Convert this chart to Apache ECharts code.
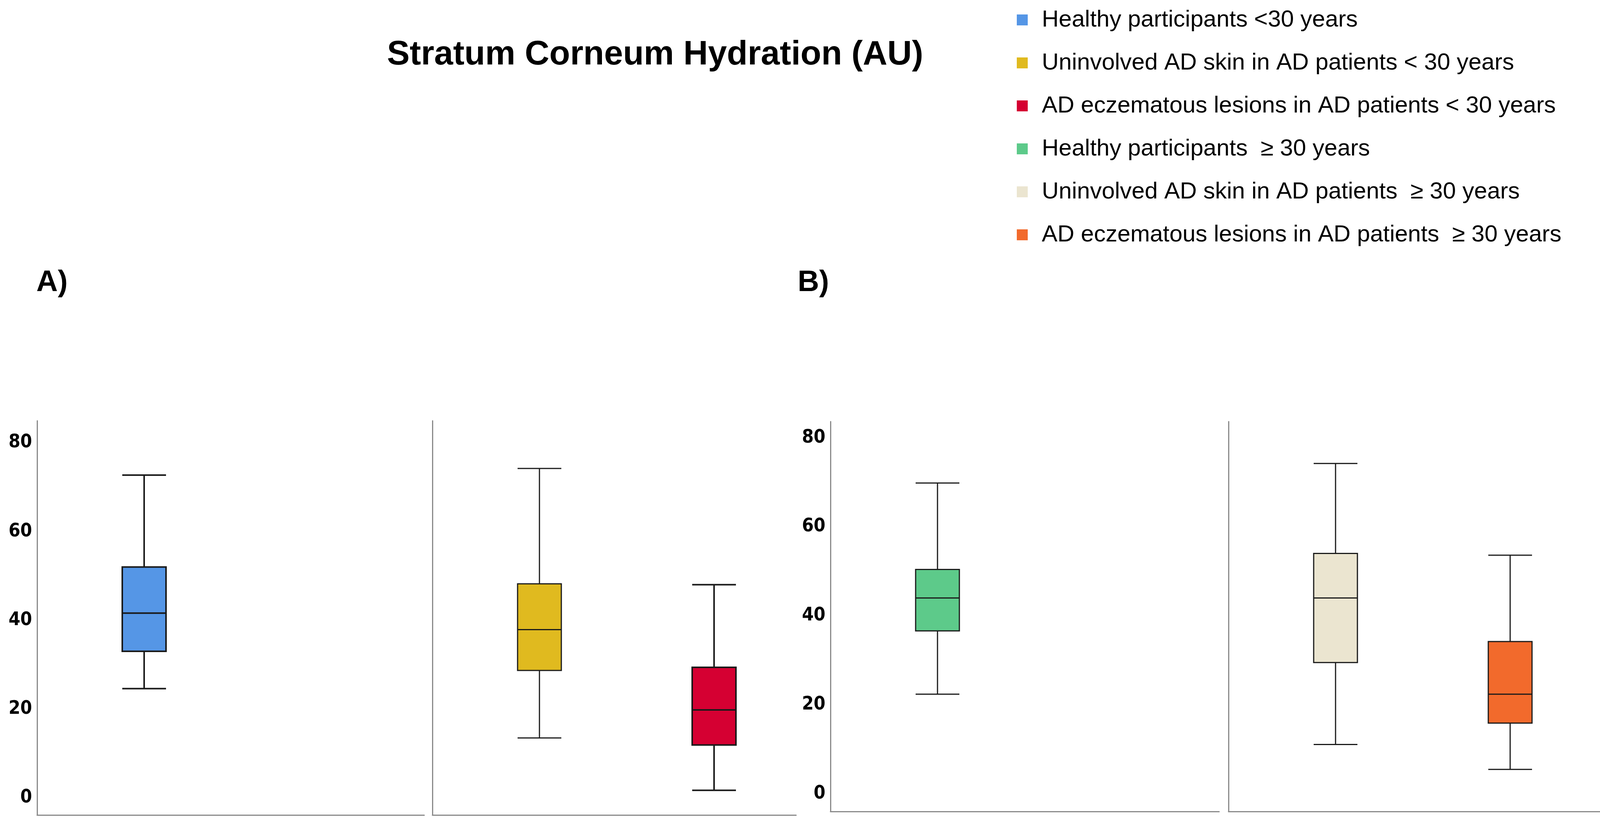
<!DOCTYPE html>
<html>
<head>
<meta charset="utf-8">
<script src="https://cdn.jsdelivr.net/npm/echarts@6/dist/echarts.min.js"></script>
<style>
html,body{margin:0;padding:0;background:#ffffff;}
#chart{width:4164px;height:2109px;}
</style>
</head>
<body>
<div id="chart"></div>
<script>
// ---------------- data ----------------
const groupNames = [
  'Healthy participants <30 years',
  'Uninvolved AD skin in AD patients < 30 years',
  'AD eczematous lesions in AD patients < 30 years',
  'Healthy participants  \u2265 30 years',
  'Uninvolved AD skin in AD patients  \u2265 30 years',
  'AD eczematous lesions in AD patients  \u2265 30 years'
];
const panelOf      = [0, 1, 1, 2, 3, 3];   // which sub-plot each group lives in
const clusterSlot  = [0, 0, 1, 0, 0, 1];   // position (cluster index) inside the sub-plot
const whiskerLow   = [24.6, 13.5, 1.7, 22.4, 11.1, 5.5];
const q1           = [33.0, 28.7, 11.9, 36.6, 29.5, 15.9];
const median       = [41.6, 37.9, 19.8, 44.0, 44.0, 22.4];
const q3           = [52.0, 48.2, 29.4, 50.4, 54.0, 34.2];
const whiskerHigh  = [72.7, 74.2, 48.0, 69.8, 74.2, 53.6];
const yTickValues  = [0, 20, 40, 60, 80];
const titleText    = 'Stratum Corneum Hydration (AU)';
const panelLetters = ['A)', 'B)'];

// ---------------- styles / layout ----------------
const colors = ['#5596E6', '#E0BA1F', '#D50032', '#5DCA8A', '#EBE5D0', '#F26A2C'];
const borderWidths = [4, 3, 4, 3, 3, 3];
const grids = [
  {left: 95,   top: 1077, width: 991, height: 1009},
  {left: 1107, top: 1077, width: 931, height: 1009},
  {left: 2126, top: 1079, width: 995, height: 998},
  {left: 3145, top: 1079, width: 992, height: 998}
];
const yRanges = [[-3.87, 84.93], [-3.87, 84.93], [-3.95, 83.6], [-3.95, 83.6]];
const showYLabels = [true, false, true, false];
const slotPx = 447, firstSlotPx = 274;
const axisColor = '#8a8a8a';
const labelFont = '"DejaVu Sans Condensed", "DejaVu Sans", sans-serif';
const textFont = '"Liberation Sans", Arial, sans-serif';

const xAxes = groupNames.map((n, i) => {
  const g = grids[panelOf[i]];
  const first = panelOf.indexOf(panelOf[i]) === i;
  return {
    type: 'value',
    gridIndex: panelOf[i],
    min: -firstSlotPx / slotPx,
    max: (g.width - firstSlotPx) / slotPx,
    show: first,
    axisLine: {show: true, onZero: false, lineStyle: {color: axisColor, width: 3}},
    axisTick: {show: false},
    axisLabel: {show: false},
    splitLine: {show: false}
  };
});

const yAxes = grids.map((g, k) => ({
  type: 'value',
  gridIndex: k,
  min: yRanges[k][0],
  max: yRanges[k][1],
  axisLine: {show: true, onZero: false, lineStyle: {color: axisColor, width: 3}},
  axisTick: {show: false},
  splitLine: {show: false},
  axisLabel: {
    show: showYLabels[k],
    customValues: yTickValues,
    margin: 13,
    color: '#000',
    fontFamily: labelFont,
    fontWeight: 'bold',
    fontSize: 48
  }
}));

const series = groupNames.map((n, i) => ({
  type: 'boxplot',
  name: n,
  xAxisIndex: i,
  yAxisIndex: panelOf[i],
  boxWidth: [112, 112],
  silent: true,
  emphasis: {disabled: true},
  itemStyle: {color: colors[i], borderColor: '#1a1a1a', borderWidth: borderWidths[i]},
  data: [[clusterSlot[i], whiskerLow[i], q1[i], median[i], q3[i], whiskerHigh[i]]]
}));

const chart = echarts.init(document.getElementById('chart'), null, {renderer: 'canvas'});
chart.setOption({
  animation: false,
  backgroundColor: '#ffffff',
  color: colors,
  title: [
    {text: titleText, left: 1677, top: 98, padding: 0, textAlign: 'center',
     textStyle: {fontFamily: textFont, fontWeight: 'bold', fontSize: 87, color: '#000'}},
    {text: panelLetters[0], left: 93, top: 686, padding: 0,
     textStyle: {fontFamily: textFont, fontWeight: 'bold', fontSize: 76, color: '#000'}},
    {text: panelLetters[1], left: 2042, top: 686, padding: 0,
     textStyle: {fontFamily: textFont, fontWeight: 'bold', fontSize: 76, color: '#000'}}
  ],
  legend: {
    data: groupNames.map((n, i) => ({name: n, itemStyle: {color: colors[i], borderWidth: 0}})),
    orient: 'vertical',
    left: 2603,
    top: 21,
    padding: 0,
    icon: 'rect',
    itemWidth: 28,
    itemHeight: 28,
    itemGap: 50,
    selectedMode: false,
    itemStyle: {borderWidth: 0},
    textStyle: {fontFamily: textFont, fontSize: 60, lineHeight: 60, color: '#000', padding: [0, 0, 0, 31]}
  },
  grid: grids.map(g => Object.assign({containLabel: false}, g)),
  xAxis: xAxes,
  yAxis: yAxes,
  series: series
});
</script>
</body>
</html>
